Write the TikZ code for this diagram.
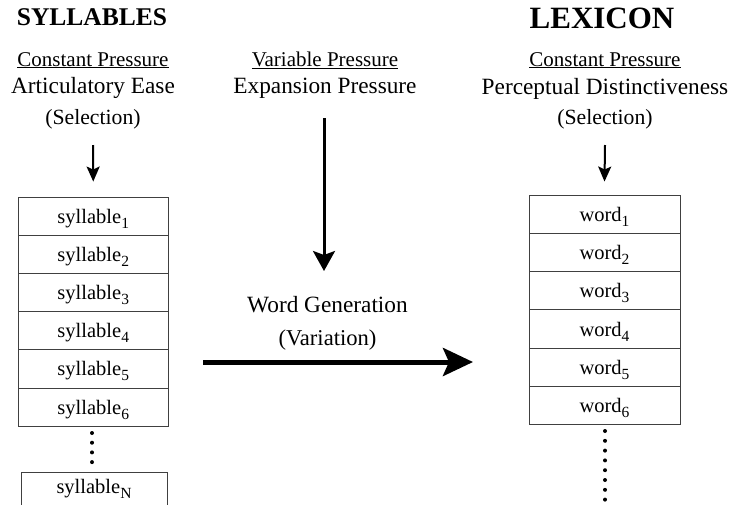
\documentclass[tikz,border=0pt]{standalone}
\usepackage{fontspec}
\setmainfont{Liberation Serif}
\usetikzlibrary{arrows.meta}
\newcommand{\mysub}[1]{\raisebox{-5pt}{\fontsize{15.5}{16}\selectfont #1}}
\begin{document}
\begin{tikzpicture}[x=1pt,y=-1pt,
  txt/.style={inner sep=0pt, anchor=base, font=\fontsize{#1}{24}\selectfont},
  ttl/.style={inner sep=0pt, anchor=base, font=\bfseries\fontsize{#1}{28}\selectfont},
  sbox/.style={draw=black!75, line width=0.9pt, minimum width=149.5pt, minimum height=38.2pt, inner sep=0pt,
     text height=18pt, text depth=4pt, font=\fontsize{20.5}{24}\selectfont},
  wbox/.style={draw=black!75, line width=0.9pt, minimum width=151pt, minimum height=38.3pt, inner sep=0pt,
     text height=18pt, text depth=4pt, font=\fontsize{20.5}{24}\selectfont},
  smallarr/.style={line width=2pt, -{Stealth[length=15pt,width=13pt,inset=3pt]}},
  midarr/.style={line width=3pt, -{Stealth[length=20pt,width=22pt,inset=4pt]}},
  bigarr/.style={line width=5pt, -{Stealth[length=30pt,width=28pt,inset=6pt]}},
  dot/.style={circle, fill=black, inner sep=0pt, minimum size=4pt}
]
\clip (0,0) rectangle (730,504);
\fill[white] (0,0) rectangle (730,504);

% left column
\node[ttl=25.5] (tsyl) at (92,25) {SYLLABLES};
\node[txt=21] (cp1) at (93,66) {\underline{Constant Pressure}};
\node[txt=23.3] (ae) at (93,93) {Articulatory Ease};
\node[txt=21.7] (sel1) at (93,124) {(Selection)};
\coordinate (a1s) at (93,145);

\foreach \i in {1,...,6}{
  \node[sbox] (s\i) at (93.25,{197+19.1+(\i-1)*38.2}) {syllable\mysub{\i}};
}
\foreach \k in {0,...,3}{
  \node[dot] (sd\k) at (92,{433+\k*9.7}) {};
}
\node[draw=black!75, line width=0.9pt, minimum width=146pt, minimum height=38pt, inner sep=0pt,
  text height=14pt, text depth=10pt, font=\fontsize{20.5}{24}\selectfont, anchor=north] (sN) at (94,472) {syllable\mysub{N}};

\draw[smallarr] (a1s) -- ([yshift=15pt]s1.north);

% middle column
\node[txt=21] (vp) at (325,66) {\underline{Variable Pressure}};
\node[txt=23.3] (ep) at (325,93) {Expansion Pressure};
\coordinate (a2s) at (324,118);
\coordinate (a2e) at (324,271);
\draw[midarr] (a2s) -- (a2e);
\node[txt=23.3] (wg) at (327.5,312) {Word Generation};
\node[txt=22.6] (var) at (327.5,345) {(Variation)};
\coordinate (a3s) at (203,362);
\coordinate (a3e) at (473,362);
\draw[bigarr] (a3s) -- (a3e);

% right column
\node[ttl=31] (tlex) at (602,28) {LEXICON};
\node[txt=21] (cp2) at (605,66) {\underline{Constant Pressure}};
\node[txt=23.3] (pd) at (605,94) {Perceptual Distinctiveness};
\node[txt=21.7] (sel2) at (605,124) {(Selection)};
\coordinate (a4s) at (605,145);

\foreach \i in {1,...,6}{
  \node[wbox] (w\i) at (604.5,{195+19.15+(\i-1)*38.3}) {word\mysub{\i}};
}
\foreach \k in {0,...,7}{
  \node[dot] (wd\k) at (605,{431+\k*9.8}) {};
}
\draw[smallarr] (a4s) -- ([yshift=13pt]w1.north);
\end{tikzpicture}
\end{document}
